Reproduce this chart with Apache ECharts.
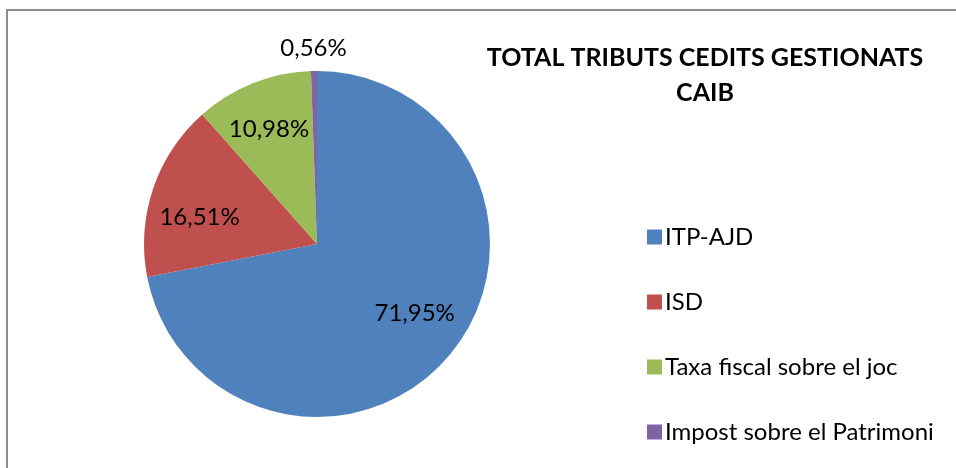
<!DOCTYPE html>
<html>
<head>
<meta charset="utf-8">
<script src="https://cdn.jsdelivr.net/npm/echarts@6/dist/echarts.min.js"></script>
<style>
  html, body { margin: 0; padding: 0; background: #fff; }
  #chart { width: 956px; height: 468px; }
</style>
</head>
<body>
<div id="chart"></div>
<script>
// dades del gràfic
const categories = ['ITP-AJD', 'ISD', 'Taxa fiscal sobre el joc', 'Impost sobre el Patrimoni']
const values = [71.95, 16.51, 10.98, 0.56]
const colors = ['#4F81BD', '#C0504D', '#9BBB59', '#8064A2']
const titleText = 'TOTAL TRIBUTS CEDITS GESTIONATS\nCAIB'

const fontFamily = 'Lato, "Open Sans", sans-serif'
const center = [317, 244]
// petits desplaçaments de les etiquetes interiors (com a l'original)
const labelNudge = [[2, -10], [0, 13], [-2, 0], [0, 0]]

const fmt = (p) => p.value.toFixed(2).replace('.', ',') + '%'

const pieData = categories.map((name, i) => ({ name, value: values[i] }))
const labelData = categories.map((name, i) => ({
  name,
  value: values[i],
  label: { offset: labelNudge[i] }
}))

const chart = echarts.init(document.getElementById('chart'), null, { renderer: 'canvas' })

chart.setOption({
  backgroundColor: '#fff',
  animation: false,
  color: colors,
  title: {
    text: titleText,
    left: 700,
    top: 35,
    textAlign: 'center',
    textStyle: {
      fontFamily,
      fontSize: 25,
      fontWeight: 'bold',
      color: '#000',
      lineHeight: 35,
      align: 'center'
    }
  },
  legend: {
    orient: 'vertical',
    left: 642,
    top: 220,
    height: 400,
    itemWidth: 15,
    itemHeight: 15,
    itemGap: 41,
    icon: 'rect',
    selectedMode: false,
    data: categories,
    textStyle: {
      fontFamily,
      fontSize: 24,
      color: '#000',
      padding: [0, 0, 0, -2]
    }
  },
  graphic: [{
    type: 'rect',
    shape: { x: 7, y: 10, width: 1000, height: 500 },
    style: { fill: 'none', stroke: '#8c8c8c', lineWidth: 2 },
    silent: true
  }],
  series: [
    {
      // pastís principal
      type: 'pie',
      center,
      radius: [0, 173],
      startAngle: 90,
      clockwise: true,
      label: { show: false },
      labelLine: { show: false },
      data: pieData
    },
    {
      // etiquetes interiors
      type: 'pie',
      center,
      radius: [69, 173],
      startAngle: 90,
      clockwise: true,
      silent: true,
      itemStyle: { color: 'rgba(0,0,0,0)' },
      labelLine: { show: false },
      label: {
        show: true,
        position: 'inside',
        formatter: (p) => (p.dataIndex < 3 ? fmt(p) : ''),
        fontFamily,
        fontSize: 24,
        color: '#000'
      },
      data: labelData
    },
    {
      // etiqueta exterior de la porció petita
      type: 'pie',
      center,
      radius: [173, 213],
      startAngle: 90,
      clockwise: true,
      silent: true,
      itemStyle: { color: 'rgba(0,0,0,0)' },
      labelLine: { show: false },
      label: {
        show: true,
        position: 'inside',
        formatter: (p) => (p.dataIndex === 3 ? fmt(p) : ''),
        fontFamily,
        fontSize: 24,
        color: '#000'
      },
      data: pieData
    }
  ]
})
</script>
</body>
</html>
